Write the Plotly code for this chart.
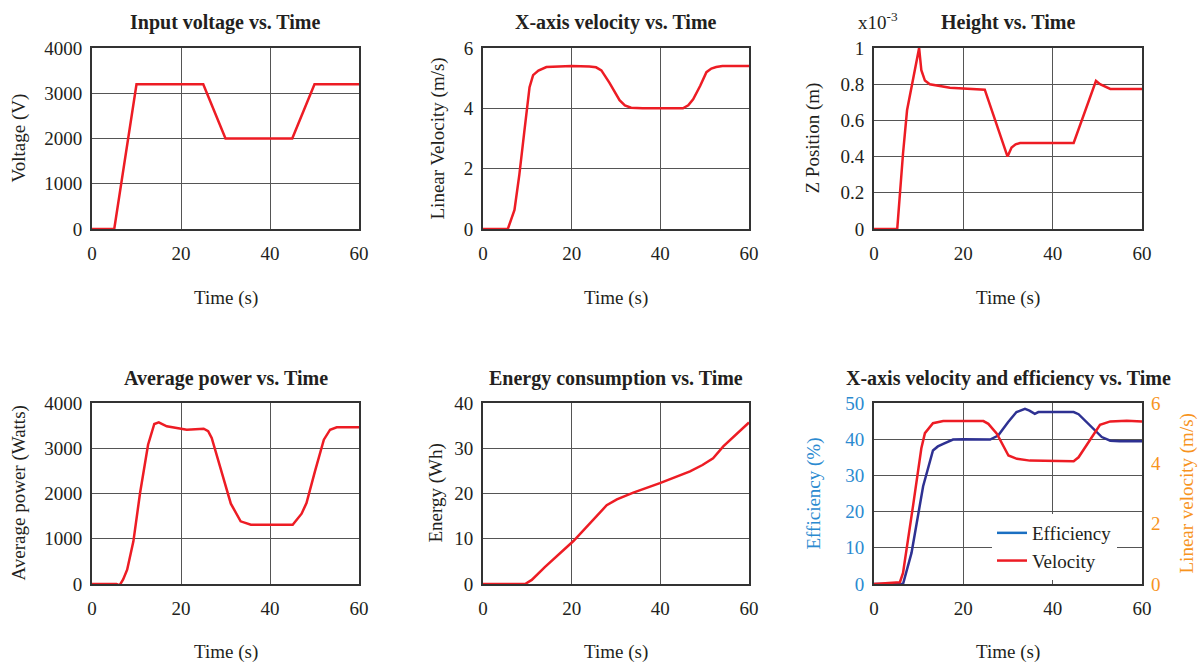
import plotly.graph_objects as go

# ---------------- data ----------------
volt_t = [0, 5, 10, 25, 30, 45, 50, 60]
volt_v = [0, 0, 3200, 3200, 2000, 2000, 3200, 3200]

vel_t = [0, 5.6, 7.1, 8.2, 9.3, 10.5, 11.3, 12.5, 14.3, 17, 20, 24, 25.5, 26.7, 28.5, 30.8, 32, 33.4, 36, 40, 45.1, 46.3, 47.4, 49, 50.4, 51.5, 52.6, 54, 60]
vel_v = [0, 0, 0.63, 1.8, 3.2, 4.7, 5.1, 5.25, 5.37, 5.39, 5.4, 5.39, 5.36, 5.26, 4.85, 4.27, 4.1, 4.02, 4.0, 4.0, 4.0, 4.1, 4.3, 4.75, 5.2, 5.32, 5.37, 5.4, 5.4]

hgt_t = [0, 5.2, 6.5, 7.4, 10.1, 10.6, 11.4, 12.5, 17, 24.8, 29.9, 30.8, 31.7, 32.7, 44.7, 49.7, 50.6, 51.4, 52.9, 60]
hgt_z = [0, 0, 0.417, 0.656, 1.0, 0.877, 0.82, 0.80, 0.78, 0.77, 0.40, 0.45, 0.468, 0.475, 0.475, 0.818, 0.80, 0.79, 0.774, 0.774]

pow_t = [0, 5.5, 6.2, 7.0, 7.9, 9.3, 10.8, 12.6, 14.0, 15.0, 16.8, 20.2, 21.3, 25.1, 26.1, 26.9, 28.8, 31.2, 33.4, 35.7, 40, 45.1, 47.1, 48.2, 50.1, 52.1, 53.5, 55, 60]
pow_w = [0, 0, -30, 100, 317, 943, 2011, 3079, 3536, 3573, 3484, 3432, 3410, 3432, 3380, 3226, 2600, 1775, 1385, 1311, 1311, 1311, 1554, 1790, 2490, 3190, 3410, 3462, 3462]

en_t = [0, 9.5, 11, 12.2, 14, 20.4, 27.9, 30.2, 33.9, 39.9, 46.7, 49.5, 51.9, 54.2, 60]
en_e = [0, 0, 0.9, 2.06, 3.8, 9.5, 17.4, 18.7, 20.2, 22.3, 24.9, 26.3, 27.8, 30.4, 35.7]

eff_t = [0, 6.5, 8.4, 11, 13.2, 14.3, 15.5, 17.7, 20, 26, 27.8, 30, 31.9, 33.8, 34.8, 36, 36.8, 40, 44.7, 45.8, 48.4, 51, 52.9, 55, 60]
eff_p = [0, 0, 8.6, 27, 36.9, 38.0, 38.7, 39.9, 40, 39.9, 41, 44.7, 47.5, 48.4, 47.9, 47.0, 47.5, 47.5, 47.5, 46.9, 43.8, 40.6, 39.6, 39.4, 39.4]

vel2_t = [0, 5.8, 6.5, 7.6, 8.75, 10.6, 11.4, 13.2, 15.5, 20, 24.5, 25.6, 27.5, 30.1, 32, 34.9, 40, 44.7, 45.8, 48.4, 50.6, 52.9, 56.6, 60]
vel2_v = [0, 0.06, 0.37, 1.4, 2.6, 4.5, 5.0, 5.33, 5.4, 5.4, 5.4, 5.31, 4.98, 4.26, 4.15, 4.09, 4.08, 4.07, 4.2, 4.81, 5.28, 5.39, 5.41, 5.39]

titles = ["Input voltage vs. Time", "X-axis velocity vs. Time", "Height vs. Time",
          "Average power vs. Time", "Energy consumption vs. Time",
          "X-axis velocity and efficiency vs. Time"]
ytitles = ["Voltage (V)", "Linear Velocity (m/s)", "Z Position (m)",
           "Average power (Watts)", "Energy (Wh)", "Efficiency (%)"]
xtitle = "Time (s)"
x_ticks = [0, 20, 40, 60]

# ---------------- layout helpers ----------------
W, H = 1203, 662
FONT = "Liberation Serif, Times New Roman, serif"
RED = "#ed1c24"
NAVY = "#2e3192"
BLUE_TXT = "#2b8ad0"
ORANGE = "#f7941d"
TXT = "#231f20"

def px(x):
    return x / W

def py(y):
    return 1 - y / H

cols = [(92, 359), (483, 749), (874, 1142)]
rows = [(48, 229), (403, 584)]

fig = go.Figure()

series = [
    (volt_t, volt_v, RED),
    (vel_t, vel_v, RED),
    (hgt_t, hgt_z, RED),
    (pow_t, pow_w, RED),
    (en_t, en_e, RED),
]
for i, (t, v, c) in enumerate(series):
    ax = "" if i == 0 else str(i + 1)
    fig.add_trace(go.Scatter(x=t, y=v, mode="lines", line=dict(color=c, width=2.5),
                             xaxis="x" + ax, yaxis="y" + ax, showlegend=False))

fig.add_trace(go.Scatter(x=eff_t, y=eff_p, mode="lines", line=dict(color=NAVY, width=2.5),
                         xaxis="x6", yaxis="y6", showlegend=False))
fig.add_trace(go.Scatter(x=vel2_t, y=vel2_v, mode="lines", line=dict(color=RED, width=2.5),
                         xaxis="x6", yaxis="y7", showlegend=False))
# legend entries
fig.add_trace(go.Scatter(x=[None], y=[None], mode="lines", name="Efficiency",
                         line=dict(color="#1a6fc2", width=2.5), xaxis="x6", yaxis="y6"))
fig.add_trace(go.Scatter(x=[None], y=[None], mode="lines", name="Velocity",
                         line=dict(color=RED, width=2.5), xaxis="x6", yaxis="y6"))

yranges = [[0, 4000], [0, 6], [0, 1], [0, 4000], [0, 40], [0, 50]]
ydt = [1000, 2, 0.2, 1000, 10, 10]

axis_common = dict(showline=True, linecolor="#333333", linewidth=2, mirror=True,
                   showgrid=True, gridcolor="#555555", gridwidth=1, zeroline=False,
                   ticks="", layer="below traces", automargin=False,
                   tickfont=dict(family=FONT, size=19, color=TXT))

annotations = []
layout = {}
for i in range(6):
    r, c = divmod(i, 3)
    x0, x1 = cols[c]
    y0, y1 = rows[r]
    ax = "" if i == 0 else str(i + 1)
    xa = dict(axis_common)
    xa.update(domain=[px(x0), px(x1)], range=[0, 60], tickvals=x_ticks,
              anchor="y" + ax, ticklabelstandoff=6)
    ya = dict(axis_common)
    ya.update(domain=[py(y1), py(y0)], range=yranges[i], dtick=ydt[i], tick0=0,
              anchor="x" + ax, ticklabelstandoff=4)
    if i == 5:
        ya["tickfont"] = dict(family=FONT, size=19, color=BLUE_TXT)
    layout["xaxis" + ax] = xa
    layout["yaxis" + ax] = ya
    cx = (x0 + x1) / 2
    ty = 23 if r == 0 else 378
    annotations.append(dict(text="<b>" + titles[i] + "</b>", x=px(cx), y=py(ty),
                            xref="paper", yref="paper", showarrow=False,
                            xanchor="center", yanchor="middle",
                            font=dict(family=FONT, size=20, color=TXT)))
    xty = 298 if r == 0 else 652
    annotations.append(dict(text=xtitle, x=px(cx), y=py(xty), xref="paper", yref="paper",
                            showarrow=False, xanchor="center", yanchor="middle",
                            font=dict(family=FONT, size=19, color=TXT)))

ytitle_x = [19, 438, 813, 18, 435, 813]
for i in range(6):
    r, c = divmod(i, 3)
    y0, y1 = rows[r]
    annotations.append(dict(text=ytitles[i], x=px(ytitle_x[i]), y=py((y0 + y1) / 2),
                            xref="paper", yref="paper", showarrow=False, textangle=-90,
                            xanchor="center", yanchor="middle",
                            font=dict(family=FONT, size=19,
                                      color=BLUE_TXT if i == 5 else TXT)))
annotations.append(dict(text="Linear velocity (m/s)", x=px(1186), y=py(493.5),
                        xref="paper", yref="paper", showarrow=False, textangle=-90,
                        xanchor="center", yanchor="middle",
                        font=dict(family=FONT, size=19, color=ORANGE)))
annotations.append(dict(text="x10<sup>-3</sup>", x=px(856), y=py(21),
                        xref="paper", yref="paper", showarrow=False,
                        xanchor="left", yanchor="middle",
                        font=dict(family=FONT, size=19, color=TXT)))

layout["yaxis7"] = dict(overlaying="y6", side="right", anchor="x6", range=[0, 6],
                        dtick=2, tick0=0, showgrid=False, zeroline=False, showline=False,
                        ticks="", ticklabelstandoff=8, automargin=False,
                        tickfont=dict(family=FONT, size=19, color=ORANGE))

fig.update_layout(**layout)
fig.update_layout(
    template="none",
    width=W, height=H, margin=dict(l=0, r=0, t=0, b=0, autoexpand=False),
    paper_bgcolor="white", plot_bgcolor="white",
    annotations=annotations,
    legend=dict(x=px(992), y=py(514), xanchor="left", yanchor="top",
                bgcolor="white", borderwidth=0, tracegroupgap=0,
                font=dict(family=FONT, size=19, color=TXT)),
)

fig.write_html("out.html", config={"displayModeBar": False},
               post_script="document.body.style.margin='0';document.body.style.padding='0';")
